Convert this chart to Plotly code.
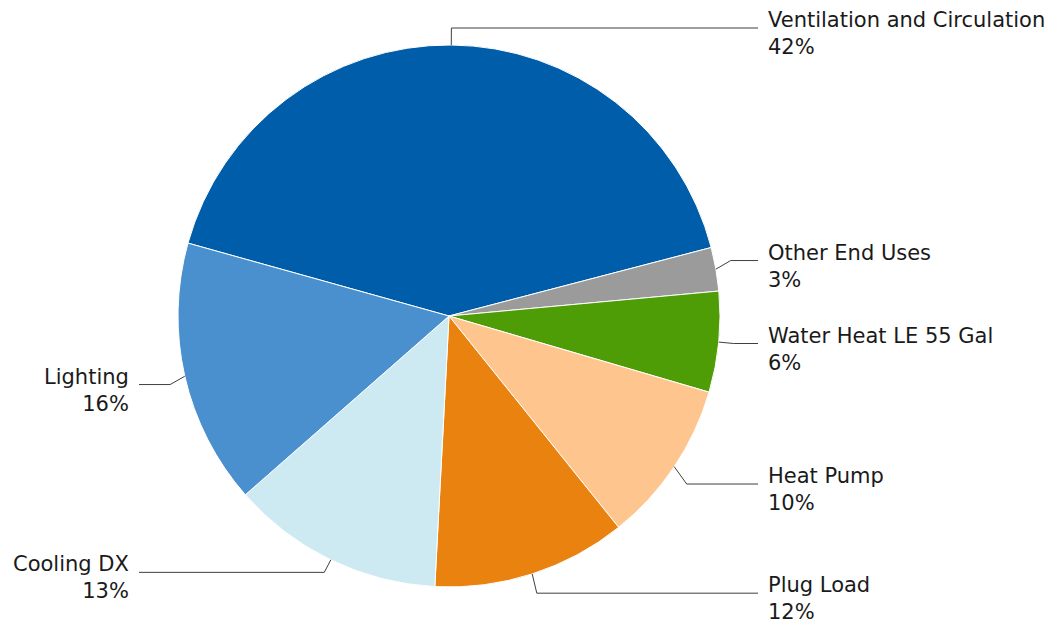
import math
import plotly.graph_objects as go

categories = ["Ventilation and Circulation", "Other End Uses", "Water Heat LE 55 Gal",
              "Heat Pump", "Plug Load", "Cooling DX", "Lighting"]
shares = [41.6, 2.6, 6.0, 9.7, 11.6, 12.7, 15.8]
colors = ["#005DAA", "#9B9B9B", "#4F9D06", "#FEC68E", "#EA820F", "#CDEAF2", "#4A90CE"]

# layout constants (pixels)
W, H = 1057, 625
CX, CY, R = 449, 316, 271
START = 285.6          # first slice starts here, degrees clockwise from 12 o'clock
ELBOW = R + 15
LABEL_NUDGE_Y = [-2, -6, 0, 9, 5, -1, 5]   # small vertical label-placement tweaks
LINE_RIGHT_X, LINE_LEFT_X = 758, 139
TEXT_RIGHT_X, TEXT_LEFT_X = 766, 131
FONT = dict(family="DejaVu Sans, Verdana, sans-serif", size=21, color="#1a1a1a")

fig = go.Figure(go.Pie(
    labels=categories, values=shares, sort=False, direction="clockwise",
    rotation=START - 360, textinfo="none", hoverinfo="label+percent",
    marker=dict(colors=colors, line=dict(color="white", width=1)),
    domain=dict(x=[(CX - R) / W, (CX + R) / W], y=[1 - (CY + R) / H, 1 - (CY - R) / H]),
    showlegend=False,
))

def px(x):
    return x / W

def py(y):
    return 1 - y / H

total = sum(shares)
cum = 0.0
shapes, annotations = [], []
for cat, v, dy in zip(categories, shares, LABEL_NUDGE_Y):
    mid = math.radians(START + (cum + v / 2) / total * 360)
    cum += v
    s, c = math.sin(mid), -math.cos(mid)
    x0, y0 = CX + R * s, CY + R * c
    x1, y1 = CX + ELBOW * s, CY + ELBOW * c + dy
    right = s >= 0
    x2 = LINE_RIGHT_X if right else LINE_LEFT_X
    shapes.append(dict(type="path", xref="paper", yref="paper",
                       path=f"M {px(x0)},{py(y0)} L {px(x1)},{py(y1)} L {px(x2)},{py(y1)}",
                       line=dict(color="#3f3f3f", width=1)))
    pct = round(v / total * 100)
    annotations.append(dict(
        text=f"{cat}<br>{pct}%", showarrow=False, xref="paper", yref="paper",
        x=px(TEXT_RIGHT_X if right else TEXT_LEFT_X), y=py(y1),
        xanchor="left" if right else "right", yanchor="top", yshift=22,
        align="left" if right else "right", font=FONT))

fig.update_layout(width=W, height=H, margin=dict(l=0, r=0, t=0, b=0),
                  paper_bgcolor="white", plot_bgcolor="white",
                  shapes=shapes, annotations=annotations)
fig.write_html("out.html", config={"displayModeBar": False},
               post_script="document.body.style.margin='0';document.body.style.overflow='hidden';")
